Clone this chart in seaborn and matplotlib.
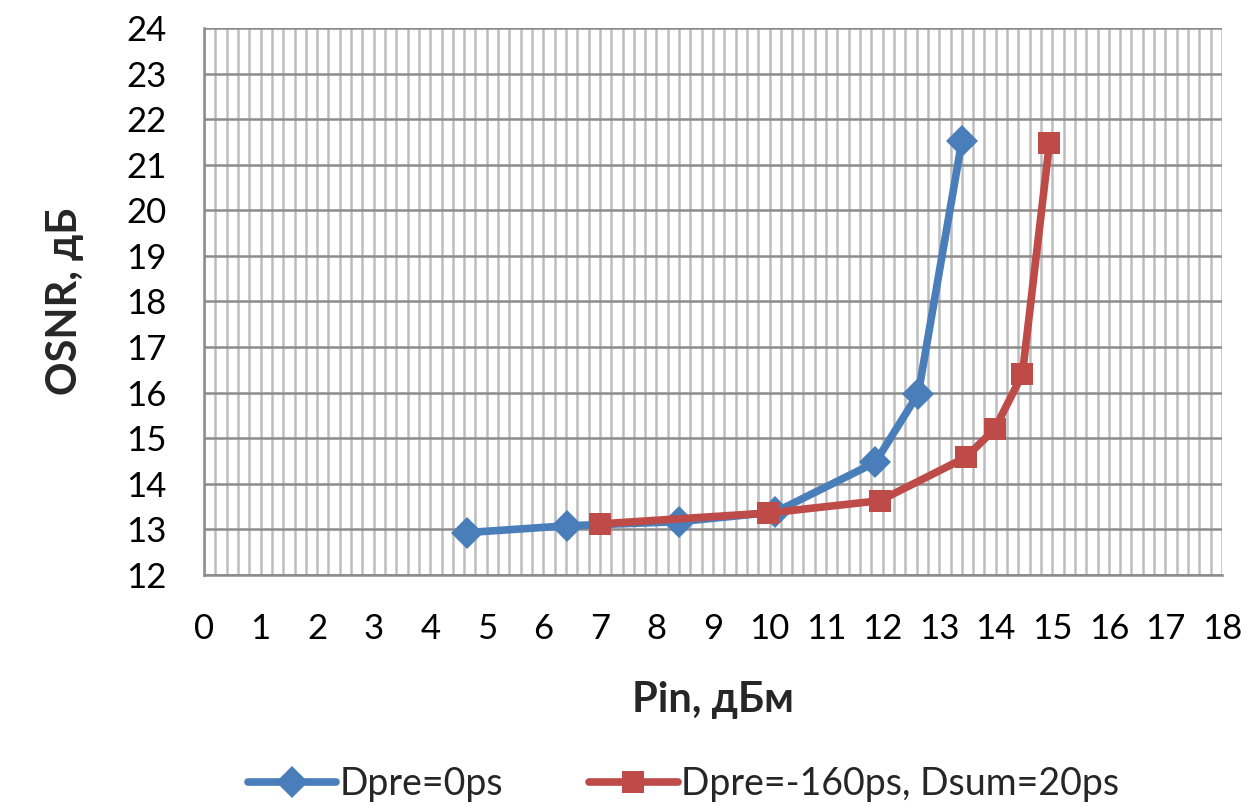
import matplotlib
matplotlib.use('Agg')
import pandas as pd
import matplotlib.pyplot as plt
import seaborn as sns
from matplotlib.ticker import MultipleLocator

# --- data ---
pin_blue = [4.65, 6.42, 8.4, 10.1, 11.87, 12.63, 13.4]
osnr_blue = [12.93, 13.08, 13.17, 13.38, 14.47, 15.98, 21.52]
pin_red = [7.0, 9.98, 11.95, 13.47, 13.98, 14.47, 14.95]
osnr_red = [13.12, 13.36, 13.63, 14.58, 15.2, 16.4, 21.48]
series_names = ['Dpre=0ps', 'Dpre=-160ps, Dsum=20ps']

df = pd.concat([
    pd.DataFrame({'pin': pin_blue, 'osnr': osnr_blue, 'series': series_names[0]}),
    pd.DataFrame({'pin': pin_red, 'osnr': osnr_red, 'series': series_names[1]}),
])

sns.set_style('white')
plt.rcParams['font.family'] = ['Lato', 'DejaVu Sans']

fig = plt.figure(figsize=(12.45, 8.06), dpi=100)
ax = fig.add_axes([0.1639, 0.2866, 0.8176, 0.6787])

palette = {series_names[0]: '#4A7EBB', series_names[1]: '#BE4B48'}
markers = {series_names[0]: 'D', series_names[1]: 's'}
sns.lineplot(data=df, x='pin', y='osnr', hue='series', style='series',
             palette=palette, markers=markers, dashes=False, sort=False,
             lw=5.5, markersize=16, markeredgewidth=0, ax=ax, zorder=3)

ax.set_xlim(0, 18)
ax.set_ylim(12, 24)
ax.xaxis.set_major_locator(MultipleLocator(1))
ax.xaxis.set_minor_locator(MultipleLocator(0.2))
ax.yaxis.set_major_locator(MultipleLocator(1))

ax.grid(False)
ax.grid(axis='x', which='both', color='#BDBDBD', lw=1.8, zorder=0)
ax.grid(axis='y', which='major', color='#8C8C8C', lw=1.8, zorder=1)
ax.set_axisbelow(True)

for s in ['top', 'right']:
    ax.spines[s].set_visible(False)
for s in ['left', 'bottom']:
    ax.spines[s].set_color('#8C8C8C')
    ax.spines[s].set_linewidth(1.8)

ax.tick_params(axis='both', which='major', direction='out', length=9, width=1.8,
               color='#8C8C8C', labelsize=25, labelcolor='black')
ax.tick_params(axis='x', which='minor', length=0)
ax.tick_params(axis='x', pad=18)
ax.tick_params(axis='y', pad=18)

ax.set_xlabel('Pin, дБм', fontsize=30, fontweight='bold', labelpad=26)
ax.set_ylabel('OSNR, дБ', fontsize=30, fontweight='bold', labelpad=30)

handles, labels = ax.get_legend_handles_labels()
ax.get_legend().remove()
fig.legend(handles, labels, loc='center', bbox_to_anchor=(0.549, 0.027),
           ncol=2, frameon=False, fontsize=27, handlelength=2.35,
           columnspacing=2.3, handletextpad=0.1)

plt.savefig('out.png', dpi=100)
